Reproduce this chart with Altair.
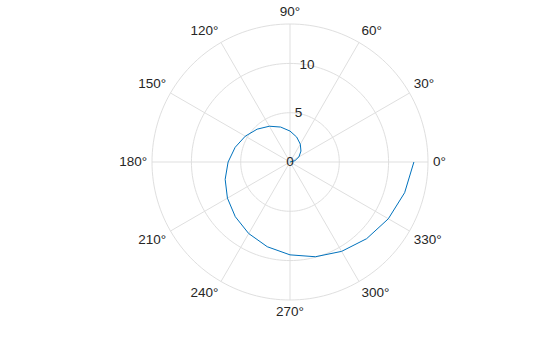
import altair as alt
import pandas as pd

# Spiral data (angle in degrees, radius)
theta_deg = [0, 15, 30, 45, 60, 75, 90, 105, 120, 135, 150, 165, 180,
             195, 210, 225, 240, 255, 270, 285, 300, 315, 330, 345, 360]
r_vals = [0.00, 0.52, 1.05, 1.57, 2.09, 2.62, 3.14, 3.67, 4.19, 4.71, 5.24, 5.76, 6.28,
          6.81, 7.33, 7.85, 8.38, 8.90, 9.42, 9.95, 10.47, 11.00, 11.52, 12.04, 12.57]

# Axes definition
r_max = 14
ring_r = [5, 10, 14]
r_ticks = [0, 5, 10]
r_tick_labels = ["0", "5", "10"]
spoke_angles = [0, 30, 60, 90, 120, 150, 180, 210, 240, 270, 300, 330]
angle_labels = ["0°", "30°", "60°", "90°", "120°", "150°", "180°", "210°", "240°", "270°", "300°", "330°"]

FONT = "Liberation Sans"
FS = 13.5
GRID = "#dfdfdf"
TXT = "#262626"
LABEL_R = 14.5

xs = alt.Scale(domain=[-r_max, r_max], nice=False, zero=False)
ys = alt.Scale(domain=[-r_max, r_max], nice=False, zero=False)

spiral_df = pd.DataFrame({"a": theta_deg, "r": r_vals, "i": list(range(len(theta_deg)))})
spokes_df = pd.DataFrame({"a": spoke_angles, "R": [r_max] * len(spoke_angles)})
rings_df = pd.DataFrame({"r": ring_r})
alab_df = pd.DataFrame({"a": spoke_angles, "t": angle_labels})
rlab_df = pd.DataFrame({"r": r_ticks, "t": r_tick_labels})

spokes = alt.Chart(spokes_df).transform_calculate(
    x0="0", y0="0",
    x1="datum.R*cos(datum.a*PI/180)", y1="datum.R*sin(datum.a*PI/180)"
).mark_rule(color=GRID, strokeWidth=1).encode(
    x=alt.X("x0:Q", scale=xs, axis=None),
    y=alt.Y("y0:Q", scale=ys, axis=None),
    x2="x1:Q", y2="y1:Q",
)

rings = alt.Chart(rings_df).transform_calculate(
    a="sequence(0, 362, 2)"
).transform_flatten(["a"]).transform_calculate(
    x="datum.r*cos(datum.a*PI/180)", y="datum.r*sin(datum.a*PI/180)"
).mark_line(color=GRID, strokeWidth=1).encode(
    x=alt.X("x:Q", scale=xs, axis=None),
    y=alt.Y("y:Q", scale=ys, axis=None),
    detail="r:N",
    order="a:Q",
)

spiral = alt.Chart(spiral_df).transform_calculate(
    x="datum.r*cos(datum.a*PI/180)", y="datum.r*sin(datum.a*PI/180)"
).mark_line(color="#0072BD", strokeWidth=1).encode(
    x=alt.X("x:Q", scale=xs, axis=None),
    y=alt.Y("y:Q", scale=ys, axis=None),
    order="i:Q",
)

# angle labels: alignment depends on the direction (MATLAB style)
groups = [
    ("left", "middle", "datum.a == 0"),
    ("left", "bottom", "datum.a > 0 && datum.a < 90"),
    ("center", "bottom", "datum.a == 90"),
    ("right", "bottom", "datum.a > 90 && datum.a < 180"),
    ("right", "middle", "datum.a == 180"),
    ("right", "top", "datum.a > 180 && datum.a < 270"),
    ("center", "top", "datum.a == 270"),
    ("left", "top", "datum.a > 270"),
]
alabel_layers = []
for al, bl, cond in groups:
    alabel_layers.append(
        alt.Chart(alab_df).transform_filter(cond).transform_calculate(
            x=f"{LABEL_R}*cos(datum.a*PI/180)", y=f"{LABEL_R}*sin(datum.a*PI/180)"
        ).mark_text(font=FONT, fontSize=FS, color=TXT, align=al, baseline=bl).encode(
            x=alt.X("x:Q", scale=xs, axis=None),
            y=alt.Y("y:Q", scale=ys, axis=None),
            text="t:N",
        )
    )

rlabels = alt.Chart(rlab_df).transform_calculate(
    x="datum.r*cos(80*PI/180)", y="datum.r*sin(80*PI/180)"
).mark_text(font=FONT, fontSize=FS, color=TXT, align="center", baseline="middle").encode(
    x=alt.X("x:Q", scale=xs, axis=None),
    y=alt.Y("y:Q", scale=ys, axis=None),
    text="t:N",
)

chart = alt.layer(spokes, rings, spiral, rlabels, *alabel_layers).properties(
    width=276, height=276,
    autosize=alt.AutoSizeParams(type="none"),
    padding={"left": 152, "top": 24, "right": 132, "bottom": 37},
    background="white",
).configure_view(stroke=None)

chart.save("out.html", embed_options={"renderer": "svg", "actions": False})
